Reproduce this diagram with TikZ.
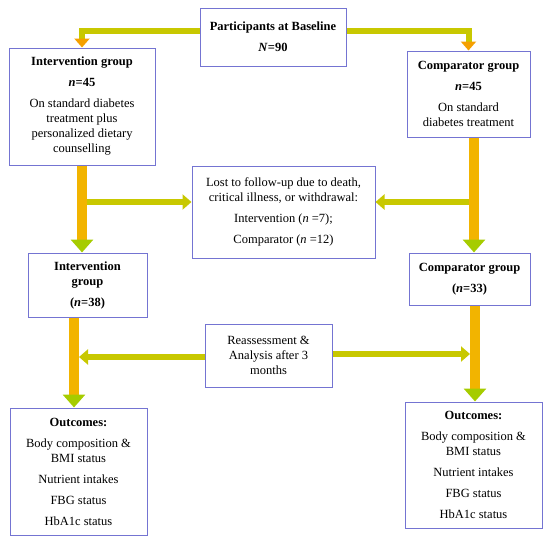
\documentclass[tikz,border=0pt]{standalone}
\usepackage{fontspec}
\setmainfont{Liberation Serif}
\usetikzlibrary{arrows.meta}

\definecolor{boxline}{HTML}{7474D2}
\definecolor{barfill}{HTML}{F2B400}
\definecolor{branchfill}{HTML}{C8C800}
\definecolor{headgreen}{HTML}{A6CC00}
\definecolor{headorange}{HTML}{F5A000}

\begin{document}
\begin{tikzpicture}[x=1pt,y=-1pt,
  every node/.style={font=\fontsize{12.5}{15}\selectfont},
  box/.style={draw=boxline,line width=1pt,fill=white,align=center,inner sep=2pt},
  bar/.style={draw=barfill,line width=10pt,-{Triangle[length=13pt,width=22pt,color=headgreen]}},
  branch/.style={draw=branchfill,line width=6pt,-{Triangle[length=9pt,width=15pt,color=branchfill]}},
  split/.style={draw=branchfill,line width=6pt,line join=miter,-{Triangle[length=9pt,width=15pt,color=headorange]}}]
\useasboundingbox (0,0) rectangle (550,542);

\node[box,minimum width=146pt,minimum height=58pt] (base) at (273,37)
  {\textbf{Participants at Baseline}\\[6pt]\textbf{\textit{N}=90}};
\node[box,minimum width=146pt,minimum height=117pt] (int1) at (82,106.5)
  {\textbf{Intervention group}\\[6pt]\textbf{\textit{n}=45}\\[6pt]On standard diabetes\\treatment plus\\personalized dietary\\counselling};
\node[box,minimum width=123pt,minimum height=86pt] (comp1) at (468.5,94)
  {\textbf{Comparator group}\\[6pt]\textbf{\textit{n}=45}\\[6pt]On standard\\diabetes treatment};
\node[box,minimum width=183pt,minimum height=92pt] (lost) at (283.5,212)
  {Lost to follow-up due to death,\\critical illness, or withdrawal:\\[6pt]Intervention (\textit{n} =7);\\[6pt]Comparator (\textit{n} =12)};
\node[box,minimum width=119pt,minimum height=64pt] (int2) at (87.5,285)
  {\textbf{Intervention}\\\textbf{group}\\[6pt]\textbf{(\textit{n}=38)}};
\node[box,minimum width=121pt,minimum height=52pt] (comp2) at (469.5,279)
  {\textbf{Comparator group}\\[6pt]\textbf{(\textit{n}=33)}};
\node[box,minimum width=127pt,minimum height=63pt] (reass) at (268.5,355.5)
  {Reassessment \&\\Analysis after 3\\months};
\node[box,minimum width=137pt,minimum height=127pt] (out1) at (78.5,471.5)
  {\textbf{Outcomes:}\\[6pt]Body composition \&\\BMI status\\[6pt]Nutrient intakes\\[6pt]FBG status\\[6pt]HbA1c status};
\node[box,minimum width=137pt,minimum height=126pt] (out2) at (473.5,465)
  {\textbf{Outcomes:}\\[6pt]Body composition \&\\BMI status\\[6pt]Nutrient intakes\\[6pt]FBG status\\[6pt]HbA1c status};

% lines of the vertical bars
\coordinate (jl) at (82,202);
\coordinate (jr) at (474,202);
\coordinate (ml) at (74,357);
\coordinate (mr) at (475,354);

% baseline split
\draw[split] ([yshift=6pt]base.west) -| (int1.north);
\draw[split] ([yshift=6pt]base.east) -| (comp1.north);

% first period
\draw[bar] (int1.south) -- (int1.south |- int2.north);
\draw[bar] (comp1.south -| jr) -- (jr |- comp2.north);
\draw[branch] ([xshift=5pt]jl) -- (lost.west |- jl);
\draw[branch] ([xshift=-5pt]jr) -- (lost.east |- jr);

% second period
\draw[bar] (ml |- int2.south) -- (ml |- out1.north);
\draw[bar] (mr |- comp2.south) -- (mr |- out2.north);
\draw[branch] (reass.west |- ml) -- ([xshift=5pt]ml);
\draw[branch] (reass.east |- mr) -- ([xshift=-5pt]mr);
\end{tikzpicture}
\end{document}
